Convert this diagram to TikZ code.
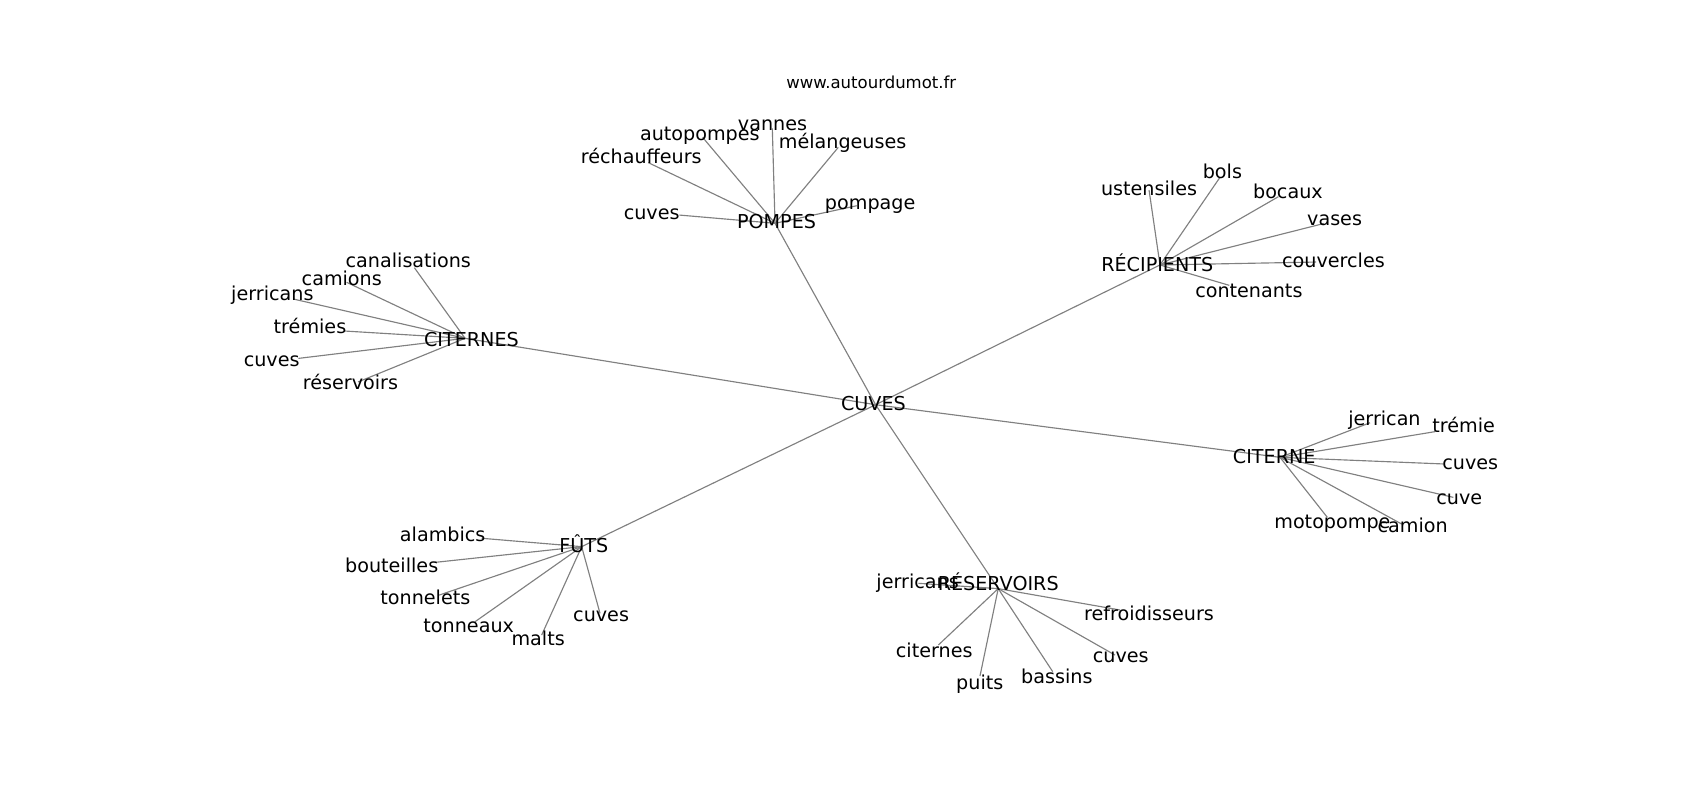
\documentclass[tikz,border=0pt]{standalone}
\usepackage{fontspec}
\setmainfont{DejaVu Sans}
\usetikzlibrary{backgrounds}

\tikzset{
    word/.style={inner sep=0pt, text height=0.73em, text depth=0pt, font=\fontsize{10.9}{12}\selectfont},
    edge/.style={draw=gray, line width=0.65pt},
}

\begin{document}
\begin{tikzpicture}[x=0.0217cm, y=-0.0217cm]
    \useasboundingbox (0,0) rectangle (1566.8,737.3);

    \node[inner sep=0pt, font=\fontsize{9.4}{11}\selectfont] (site) at (803,76) {www.autourdumot.fr};

    % Hubs
    \coordinate (cuves) at (807,373);
    \coordinate (pompes) at (714.3,205.8);
    \coordinate (recipients) at (1069.1,244.2);
    \coordinate (citernes) at (428.6,311.8);
    \coordinate (citerne) at (1179.7,421.5);
    \coordinate (futs) at (536.1,503.8);
    \coordinate (reservoirs) at (920,542.5);

    \node[word] (cuves_txt) at (805,372) {CUVES};
    \node[word] (pompes_txt) at (715.7,205) {POMPES};
    \node[word] (recipients_txt) at (1066.6,244.5) {RÉCIPIENTS};
    \node[word] (citernes_txt) at (434.5,313) {CITERNES};
    \node[word] (citerne_txt) at (1174.4,421) {CITERNE};
    \node[word] (futs_txt) at (538,503) {FÛTS};
    \node[word] (reservoirs_txt) at (920,538) {RÉSERVOIRS};

    % POMPES
    \coordinate (pompes_cuves) at (626.1,198.2);
    \coordinate (pompes_rechauffeurs) at (597.5,149.9);
    \coordinate (pompes_autopompes) at (647.6,126.6);
    \coordinate (pompes_vannes) at (711.8,118.3);
    \coordinate (pompes_melangeuses) at (772.6,135.8);
    \coordinate (pompes_pompage) at (789.6,189.6);
    \node[word] (pompes_cuves_txt) at (600.6,196.6) {cuves};
    \node[word] (pompes_rechauffeurs_txt) at (591,145) {réchauffeurs};
    \node[word] (pompes_autopompes_txt) at (645,123.5) {autopompes};
    \node[word] (pompes_vannes_txt) at (712,114) {vannes};
    \node[word] (pompes_melangeuses_txt) at (776.6,130.6) {mélangeuses};
    \node[word] (pompes_pompage_txt) at (802,187) {pompage};

    % RÉCIPIENTS
    \coordinate (recipients_ustensiles) at (1059,175.1);
    \coordinate (recipients_bols) at (1124.4,163.4);
    \coordinate (recipients_bocaux) at (1178.2,181.3);
    \coordinate (recipients_vases) at (1220,206);
    \coordinate (recipients_couvercles) at (1213,241.5);
    \coordinate (recipients_contenants) at (1133,263);
    \node[word] (recipients_ustensiles_txt) at (1059,174) {ustensiles};
    \node[word] (recipients_bols_txt) at (1126.6,158.8) {bols};
    \node[word] (recipients_bocaux_txt) at (1187,177) {bocaux};
    \node[word] (recipients_vases_txt) at (1230,202) {vases};
    \node[word] (recipients_couvercles_txt) at (1229,241) {couvercles};
    \node[word] (recipients_contenants_txt) at (1151,268) {contenants};

    % CITERNES
    \coordinate (citernes_canalisations) at (381.9,246.7);
    \coordinate (citernes_camions) at (319.5,260.2);
    \coordinate (citernes_jerricans) at (270.4,275.6);
    \coordinate (citernes_tremies) at (318,305.1);
    \coordinate (citernes_cuves) at (275,330.3);
    \coordinate (citernes_reservoirs) at (330,352);
    \node[word] (citernes_canalisations_txt) at (376.3,240.5) {canalisations};
    \node[word] (citernes_camions_txt) at (315,257.4) {camions};
    \node[word] (citernes_jerricans_txt) at (251,271) {jerricans};
    \node[word] (citernes_tremies_txt) at (285.7,301.7) {trémies};
    \node[word] (citernes_cuves_txt) at (250.4,331.8) {cuves};
    \node[word] (citernes_reservoirs_txt) at (323,353) {réservoirs};

    % CITERNE
    \coordinate (citerne_jerrican) at (1262.7,389.6);
    \coordinate (citerne_tremie) at (1322.6,397.8);
    \coordinate (citerne_cuves) at (1330.3,427.6);
    \coordinate (citerne_cuve) at (1339.5,458.4);
    \coordinate (citerne_motopompe) at (1223.3,476.8);
    \coordinate (citerne_camion) at (1291.9,483);
    \node[word] (citerne_jerrican_txt) at (1276,386) {jerrican};
    \node[word] (citerne_tremie_txt) at (1349,393) {trémie};
    \node[word] (citerne_cuves_txt) at (1355,427) {cuves};
    \node[word] (citerne_cuve_txt) at (1345,459) {cuve};
    \node[word] (citerne_motopompe_txt) at (1228,481) {motopompe};
    \node[word] (citerne_camion_txt) at (1302,485) {camion};

    % FÛTS
    \coordinate (futs_alambics) at (443.9,496.1);
    \coordinate (futs_bouteilles) at (400.9,518.3);
    \coordinate (futs_tonnelets) at (404,548.7);
    \coordinate (futs_tonneaux) at (437.8,573);
    \coordinate (futs_malts) at (499.2,585.3);
    \coordinate (futs_cuves) at (553,565.3);
    \node[word] (futs_alambics_txt) at (408,493) {alambics};
    \node[word] (futs_bouteilles_txt) at (361,521.4) {bouteilles};
    \node[word] (futs_tonnelets_txt) at (392,551) {tonnelets};
    \node[word] (futs_tonneaux_txt) at (432,577) {tonneaux};
    \node[word] (futs_malts_txt) at (496,589) {malts};
    \node[word] (futs_cuves_txt) at (554,567) {cuves};

    % RÉSERVOIRS
    \coordinate (reservoirs_jerricans) at (846.4,537.6);
    \coordinate (reservoirs_refroidisseurs) at (1032.3,562.2);
    \coordinate (reservoirs_citernes) at (864.8,594.5);
    \coordinate (reservoirs_puits) at (903.2,623);
    \coordinate (reservoirs_bassins) at (970.2,619);
    \coordinate (reservoirs_cuves) at (1027.6,603.7);
    \node[word] (reservoirs_jerricans_txt) at (845.7,536.5) {jerricans};
    \node[word] (reservoirs_refroidisseurs_txt) at (1059,566) {refroidisseurs};
    \node[word] (reservoirs_citernes_txt) at (861,600) {citernes};
    \node[word] (reservoirs_puits_txt) at (903,630) {puits};
    \node[word] (reservoirs_bassins_txt) at (974,624) {bassins};
    \node[word] (reservoirs_cuves_txt) at (1033,605) {cuves};

    % Edges
    \begin{scope}[on background layer]
        \foreach \hub in {pompes,recipients,citernes,citerne,futs,reservoirs}
            \draw[edge] (cuves) -- (\hub);
        \foreach \leaf in {cuves,rechauffeurs,autopompes,vannes,melangeuses,pompage}
            \draw[edge] (pompes) -- (pompes_\leaf);
        \foreach \leaf in {ustensiles,bols,bocaux,vases,couvercles,contenants}
            \draw[edge] (recipients) -- (recipients_\leaf);
        \foreach \leaf in {canalisations,camions,jerricans,tremies,cuves,reservoirs}
            \draw[edge] (citernes) -- (citernes_\leaf);
        \foreach \leaf in {jerrican,tremie,cuves,cuve,motopompe,camion}
            \draw[edge] (citerne) -- (citerne_\leaf);
        \foreach \leaf in {alambics,bouteilles,tonnelets,tonneaux,malts,cuves}
            \draw[edge] (futs) -- (futs_\leaf);
        \foreach \leaf in {jerricans,refroidisseurs,citernes,puits,bassins,cuves}
            \draw[edge] (reservoirs) -- (reservoirs_\leaf);
    \end{scope}
\end{tikzpicture}
\end{document}
